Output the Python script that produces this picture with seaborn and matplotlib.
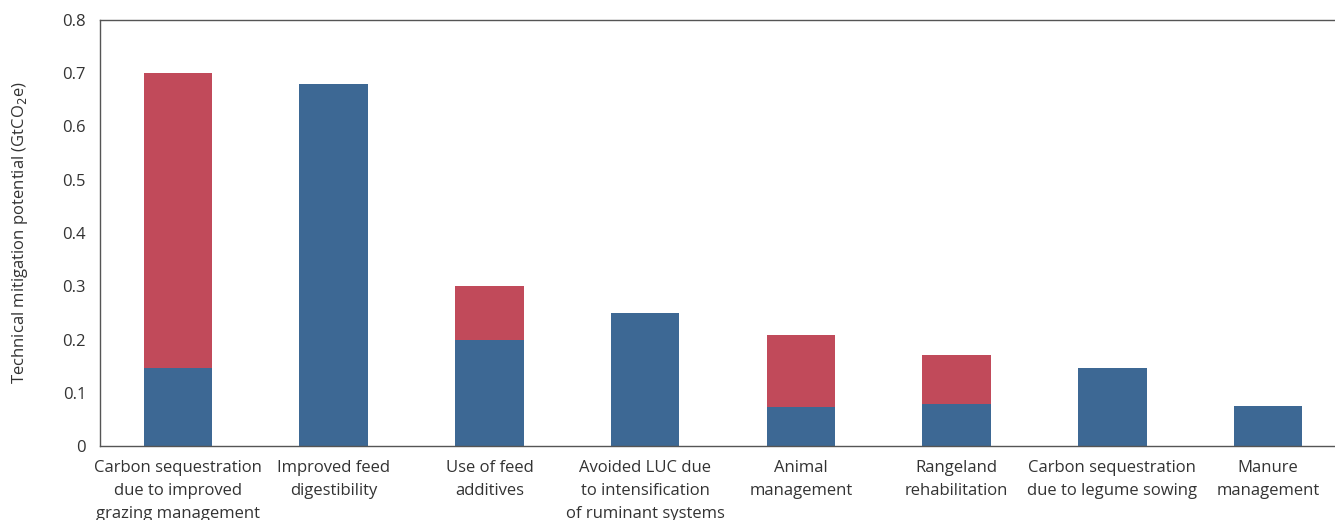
import matplotlib
matplotlib.use("Agg")
import matplotlib.pyplot as plt
import seaborn as sns
import pandas as pd
import numpy as np

categories = [
    "Carbon sequestration\ndue to improved\ngrazing management",
    "Improved feed\ndigestibility",
    "Use of feed\nadditives",
    "Avoided LUC due\nto intensification\nof ruminant systems",
    "Animal\nmanagement",
    "Rangeland\nrehabilitation",
    "Carbon sequestration\ndue to legume sowing",
    "Manure\nmanagement",
]
blue_values = [0.147, 0.68, 0.20, 0.25, 0.073, 0.079, 0.146, 0.075]
red_values = [0.553, 0.0, 0.10, 0.0, 0.135, 0.092, 0.0, 0.0]
ytick_values = [0, 0.1, 0.2, 0.3, 0.4, 0.5, 0.6, 0.7, 0.8]
ytick_labels = ["0", "0.1", "0.2", "0.3", "0.4", "0.5", "0.6", "0.7", "0.8"]

BLUE = "#3D6894"
RED = "#C14A5A"
TEXT = "#333333"
SPINE = "#555555"

sns.set_style("white")
plt.rcParams["font.family"] = ["Open Sans", "DejaVu Sans"]

df = pd.DataFrame({
    "category": categories,
    "blue": blue_values,
    "total": [b + r for b, r in zip(blue_values, red_values)],
})

fig = plt.figure(figsize=(13.35, 5.2), dpi=100)
ax = fig.add_axes([100 / 1335, 1 - 446 / 520, 1246 / 1335, 426 / 520])

sns.barplot(data=df, x="category", y="total", color=RED, saturation=1,
            width=0.44, ax=ax, linewidth=0)
sns.barplot(data=df, x="category", y="blue", color=BLUE, saturation=1,
            width=0.44, ax=ax, linewidth=0)

ax.set_xlim(-0.5, 7.5)
ax.set_ylim(0, 0.8)

ax.set_yticks(ytick_values)
ax.set_yticklabels(ytick_labels, color=TEXT, fontsize=12)

n = len(categories)
ax.set_xticks(np.arange(-0.5, n, 1.0))
ax.set_xticklabels([""] * (n + 1))
ax.set_xticks(np.arange(n), minor=True)
ax.set_xticklabels(categories, minor=True, color=TEXT, fontsize=12,
                   linespacing=1.6, va="top")
ax.tick_params(axis="x", which="minor", length=0, pad=10)
ax.tick_params(axis="x", which="major", length=6, width=1, color=SPINE, direction="out")
ax.tick_params(axis="y", length=6, width=1, color=SPINE, direction="out", pad=4)

for side in ["left", "bottom", "top"]:
    ax.spines[side].set_visible(True)
    ax.spines[side].set_color(SPINE)
    ax.spines[side].set_linewidth(1)
ax.spines["right"].set_visible(False)

ax.set_xlabel("")
ax.set_ylabel("Technical mitigation potential (GtCO$_2$e)", color=TEXT, fontsize=12)
ax.yaxis.set_label_coords(-70 / 1246, 0.5)

fig.savefig("out.png", dpi=100)
